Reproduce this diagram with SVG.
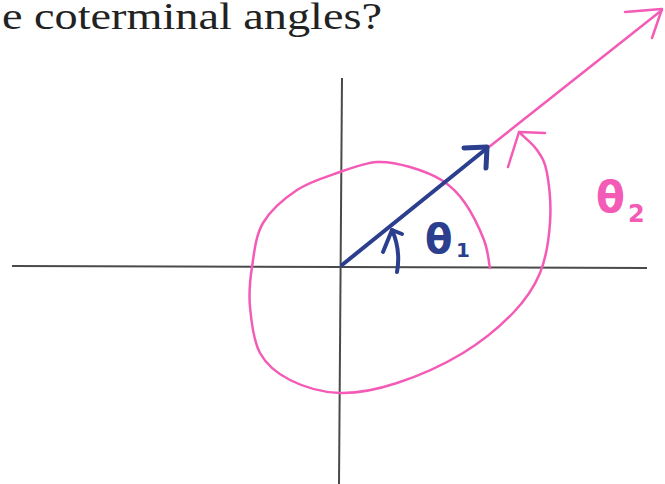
<svg xmlns="http://www.w3.org/2000/svg" width="665" height="484" viewBox="0 0 665 484">
<style>
.axis{stroke:#4a4a4a;stroke-width:2;fill:none}
.blue{stroke:#2b3f8e;fill:none;stroke-linecap:round;stroke-linejoin:round}
.pink{stroke:#f45bb6;fill:none;stroke-linecap:round;stroke-linejoin:round}
.title{font-family:"Liberation Serif","Times New Roman",serif;font-size:37px;fill:#222}
.hb{font-family:"DejaVu Sans","Liberation Sans",sans-serif;font-weight:bold;fill:#2b3f8e}
.hp{font-family:"DejaVu Sans","Liberation Sans",sans-serif;font-weight:bold;fill:#f45bb6}
</style>
<rect width="665" height="484" fill="#ffffff"/>
<text class="title" x="2" y="29" textLength="380" lengthAdjust="spacingAndGlyphs">e coterminal angles?</text>
<g id="axes">
<line class="axis" x1="12" y1="266" x2="647" y2="268"/>
<line class="axis" x1="342" y1="78" x2="339" y2="484"/>
</g>
<g id="connectors">
<path class="pink" stroke-width="2.5" d="M490,268 C488,258 488.2,250.7 484,240 C479.8,229.3 471.8,212.8 465,203 C458.2,193.2 452.2,187 443,181 C433.8,175 421,170.2 410,167 C399,163.8 388.7,161.2 377,162 C365.3,162.8 353.3,167.3 340,172 C326.7,176.7 309.8,181.5 297,190 C284.2,198.5 270.5,210.2 263,223 C255.5,235.8 254.2,253 252,267 C249.8,281 248.7,292.7 250,307 C251.3,321.3 253.3,340.8 260,353 C266.7,365.2 276.7,373.3 290,380 C303.3,386.7 322.2,392.5 340,393 C357.8,393.5 376.5,389.7 397,383 C417.5,376.3 443.7,364.7 463,353 C482.3,341.3 500.2,326.3 513,313 C525.8,299.7 533.8,288 540,273 C546.2,258 548.8,239.7 550,223 C551.2,206.3 549.2,185.2 547,173 C544.8,160.8 541.7,156.8 537,150 C532.3,143.2 525,138 519,132"/>
<path class="pink" stroke-width="2.5" d="M508,167 L519,132 L545,133"/>
<line class="pink" stroke-width="2.5" x1="489" y1="147" x2="662" y2="10"/>
<path class="pink" stroke-width="2.5" d="M625,12 L662,9 L652,38"/>
<line class="blue" stroke-width="4" x1="342" y1="265" x2="486" y2="149"/>
<path class="blue" stroke-width="5" d="M464,148 L487,147 L486,168"/>
<path class="blue" stroke-width="4" d="M397,272 Q401,250 392,230"/>
<path class="blue" stroke-width="4" d="M383,252 L392,230 L402,234"/>
</g>
<g id="theta1">
<text class="hb" x="425" y="253" font-size="40">θ</text>
<text class="hb" x="456" y="257" font-size="20">1</text>
</g>
<g id="theta2">
<text class="hp" x="596" y="212" font-size="42">θ</text>
<text class="hp" x="628" y="222" font-size="24">2</text>
</g>
</svg>
